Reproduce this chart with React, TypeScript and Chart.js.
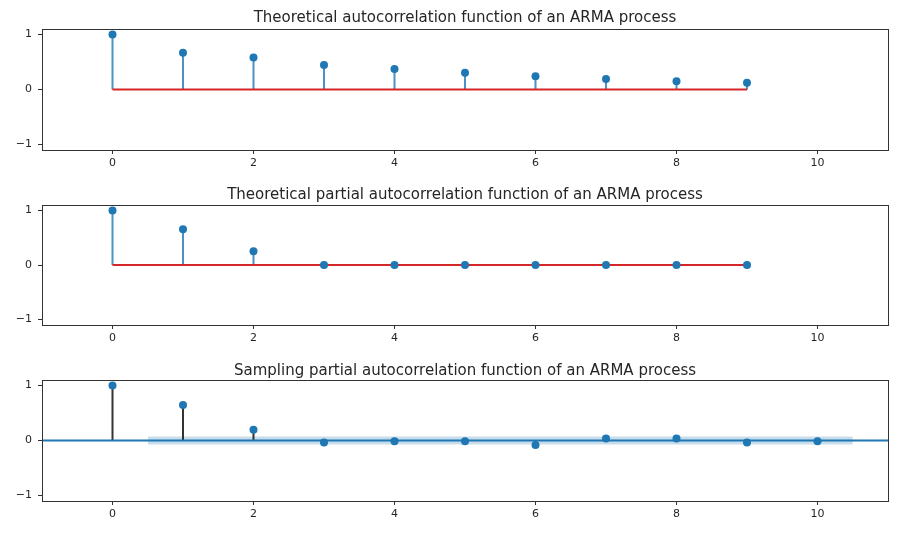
import React, { useEffect, useRef } from "react";
import { Chart, registerables } from "chart.js";

Chart.register(...registerables);

const LAGS_THEO = [0, 1, 2, 3, 4, 5, 6, 7, 8, 9];
const ACF_THEO = [1, 0.67, 0.58, 0.445, 0.373, 0.305, 0.24, 0.19, 0.15, 0.124];
const PACF_THEO = [1, 0.655, 0.25, 0, 0, 0, 0, 0, 0, 0];
const LAGS_SAMPLE = [0, 1, 2, 3, 4, 5, 6, 7, 8, 9, 10];
const PACF_SAMPLE = [1, 0.645, 0.195, -0.035, -0.012, -0.012, -0.08, 0.035, 0.035, -0.035, -0.012];
const CONF_HALF = 0.073;
const BAND_X = [0.5, 10.5];
const X_TICKS = [0, 2, 4, 6, 8, 10];
const Y_TICKS = [-1, 0, 1];
const TITLES = [
  "Theoretical autocorrelation function of an ARMA process",
  "Theoretical partial autocorrelation function of an ARMA process",
  "Sampling partial autocorrelation function of an ARMA process",
];

const C0 = "#1f77b4";
const C3 = "#d62728";
const FONT = "DejaVu Sans";

function stems(lags: number[], vals: number[]) {
  const out: any[] = [];
  lags.forEach((l, i) => {
    out.push({ x: l, y: 0 }, { x: l, y: vals[i] }, { x: l, y: null });
  });
  return out;
}

function pts(lags: number[], vals: number[]) {
  return lags.map((l, i) => ({ x: l, y: vals[i] }));
}

function buildOptions(title: string, padTop: number, xHeight: number, titleGap: number) {
  const framePlugin = {
    id: "frame",
    afterDraw(chart: any) {
      const { ctx, chartArea: a } = chart;
      ctx.save();
      ctx.strokeStyle = "#333";
      ctx.lineWidth = 1;
      ctx.strokeRect(Math.round(a.left) + 0.5, Math.round(a.top) + 0.5, Math.round(a.right - a.left), Math.round(a.bottom - a.top));
      ctx.fillStyle = "#262626";
      ctx.font = `15px "${FONT}"`;
      ctx.textAlign = "center";
      ctx.textBaseline = "alphabetic";
      ctx.fillText(title, (a.left + a.right) / 2, a.top - titleGap);
      ctx.restore();
    },
  };
  const options: any = {
    animation: false,
    responsive: false,
    maintainAspectRatio: false,
    layout: { padding: { top: padTop, left: 0, right: 21, bottom: 0 } },
    plugins: { legend: { display: false }, tooltip: { enabled: false }, title: { display: false } },
    scales: {
      x: {
        type: "linear",
        min: -1,
        max: 11,
        afterBuildTicks: (s: any) => {
          s.ticks = X_TICKS.map((v) => ({ value: v }));
        },
        afterFit: (s: any) => {
          s.height = xHeight;
        },
        grid: { drawOnChartArea: false, drawTicks: true, tickLength: 4, color: "#333", lineWidth: 1 },
        border: { display: true, color: "#333", width: 1 },
        ticks: { font: { family: FONT, size: 11 }, color: "#262626", padding: 3, maxRotation: 0, callback: (v: any) => String(v) },
      },
      y: {
        type: "linear",
        min: -1.1,
        max: 1.1,
        afterBuildTicks: (s: any) => {
          s.ticks = Y_TICKS.map((v) => ({ value: v }));
        },
        afterFit: (s: any) => {
          s.width = 42;
        },
        grid: { drawOnChartArea: false, drawTicks: true, tickLength: 4, color: "#333", lineWidth: 1 },
        border: { display: true, color: "#333", width: 1 },
        ticks: {
          font: { family: FONT, size: 11 },
          color: "#262626",
          padding: 6,
          callback: (v: any) => (v < 0 ? "\u2212" + Math.abs(v) : String(v)),
        },
      },
    },
  };
  return { options, plugins: [framePlugin] };
}

function theoDatasets(lags: number[], vals: number[]) {
  return [
    {
      data: pts(lags, vals),
      showLine: false,
      pointRadius: 4,
      pointBackgroundColor: C0,
      pointBorderWidth: 0,
      order: 0,
    },
    {
      data: [
        { x: lags[0], y: 0 },
        { x: lags[lags.length - 1], y: 0 },
      ],
      showLine: true,
      borderColor: C3,
      borderWidth: 2,
      pointRadius: 0,
      order: 1,
    },
    {
      data: stems(lags, vals),
      showLine: true,
      spanGaps: false,
      borderColor: "rgba(31,119,180,0.8)",
      borderWidth: 2,
      pointRadius: 0,
      order: 2,
    },
  ];
}

function sampleDatasets() {
  return [
    {
      data: pts(LAGS_SAMPLE, PACF_SAMPLE),
      showLine: false,
      pointRadius: 4,
      pointBackgroundColor: C0,
      pointBorderWidth: 0,
      order: 0,
    },
    {
      data: [
        { x: -1, y: 0 },
        { x: 11, y: 0 },
      ],
      showLine: true,
      borderColor: C0,
      borderWidth: 2,
      pointRadius: 0,
      order: 1,
    },
    {
      data: stems(LAGS_SAMPLE, PACF_SAMPLE),
      showLine: true,
      spanGaps: false,
      borderColor: "#333",
      borderWidth: 2,
      pointRadius: 0,
      order: 2,
    },
    {
      data: [
        { x: BAND_X[0], y: CONF_HALF },
        { x: BAND_X[1], y: CONF_HALF },
      ],
      showLine: true,
      borderWidth: 0,
      borderColor: "rgba(0,0,0,0)",
      pointRadius: 0,
      fill: false,
      order: 4,
    },
    {
      data: [
        { x: BAND_X[0], y: -CONF_HALF },
        { x: BAND_X[1], y: -CONF_HALF },
      ],
      showLine: true,
      borderWidth: 0,
      borderColor: "rgba(0,0,0,0)",
      backgroundColor: "rgba(31,119,180,0.25)",
      pointRadius: 0,
      fill: "-1",
      order: 3,
    },
  ];
}

export default function App() {
  const r1 = useRef<HTMLCanvasElement>(null);
  const r2 = useRef<HTMLCanvasElement>(null);
  const r3 = useRef<HTMLCanvasElement>(null);

  useEffect(() => {
    const charts: Chart[] = [];
    const o1 = buildOptions(TITLES[0], 29, 28, 7);
    charts.push(
      new Chart(r1.current!, {
        type: "scatter",
        data: { datasets: theoDatasets(LAGS_THEO, ACF_THEO) as any },
        options: o1.options,
        plugins: o1.plugins,
      })
    );
    const o2 = buildOptions(TITLES[1], 27, 28, 6);
    charts.push(
      new Chart(r2.current!, {
        type: "scatter",
        data: { datasets: theoDatasets(LAGS_THEO, PACF_THEO) as any },
        options: o2.options,
        plugins: o2.plugins,
      })
    );
    const o3 = buildOptions(TITLES[2], 27, 35, 5);
    charts.push(
      new Chart(r3.current!, {
        type: "scatter",
        data: { datasets: sampleDatasets() as any },
        options: o3.options,
        plugins: o3.plugins,
      })
    );
    return () => charts.forEach((c) => c.destroy());
  }, []);

  const base: React.CSSProperties = { position: "absolute", left: 0, display: "block" };
  return (
    <div style={{ position: "absolute", left: 0, top: 0, width: 909, height: 536, background: "#fff" }}>
      <canvas ref={r1} width={909} height={178} style={{ ...base, top: 0, width: 909, height: 178 }} />
      <canvas ref={r2} width={909} height={175} style={{ ...base, top: 178, width: 909, height: 175 }} />
      <canvas ref={r3} width={909} height={183} style={{ ...base, top: 353, width: 909, height: 183 }} />
    </div>
  );
}
